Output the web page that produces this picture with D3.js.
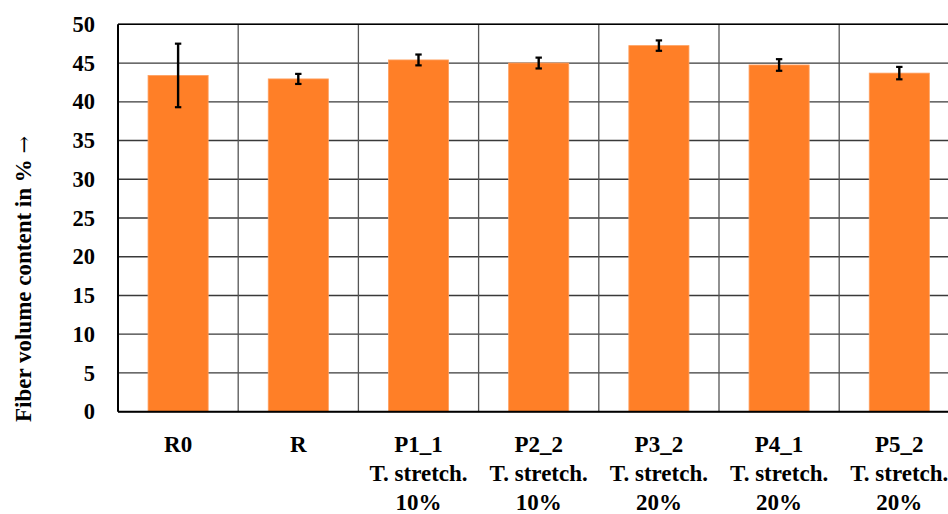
<!DOCTYPE html>
<html>
<head>
<meta charset="utf-8">
<script src="https://cdn.jsdelivr.net/npm/d3@7"></script>
<style>
  html, body { margin: 0; padding: 0; background: #fff; }
  svg { display: block; }
  text { font-family: "Liberation Serif", "Times New Roman", serif; font-weight: bold; fill: #000; }
</style>
</head>
<body>
<svg id="chart" width="948" height="514"></svg>
<script>
const categories = ["R0", "R", "P1_1", "P2_2", "P3_2", "P4_1", "P5_2"];
const labelLine2 = ["", "", "T. stretch.", "T. stretch.", "T. stretch.", "T. stretch.", "T. stretch."];
const labelLine3 = ["", "", "10%", "10%", "20%", "20%", "20%"];
const values = [43.4, 42.95, 45.4, 45.0, 47.25, 44.75, 43.7];
const errors = [4.1, 0.65, 0.7, 0.7, 0.67, 0.75, 0.8];
const yTicks = [0, 5, 10, 15, 20, 25, 30, 35, 40, 45, 50];
const yTitleText = "Fiber volume content in %";
const yTitleArrow = "\u2192";

const svg = d3.select("#chart");
const mLeft = 118, mTop = 24.3, plotH = 387.4, band = 120.2;
const plotW = band * categories.length;

const x = d3.scaleBand().domain(categories).range([mLeft, mLeft + plotW]).paddingInner(0).paddingOuter(0);
const y = d3.scaleLinear().domain([0, 50]).range([mTop + plotH, mTop]);

// horizontal gridlines
svg.append("g").selectAll("line").data(yTicks).join("line")
  .attr("x1", mLeft).attr("x2", mLeft + plotW)
  .attr("y1", d => y(d)).attr("y2", d => y(d))
  .attr("stroke", "#3a3a3a").attr("stroke-width", 1.3);

// vertical category boundaries
svg.append("g").selectAll("line").data(categories.slice(1)).join("line")
  .attr("x1", d => x(d)).attr("x2", d => x(d))
  .attr("y1", mTop).attr("y2", mTop + plotH)
  .attr("stroke", "#555").attr("stroke-width", 1.3);

// bars
const bw = x.bandwidth() / 2;
svg.append("g").selectAll("rect").data(values).join("rect")
  .attr("x", (d, i) => x(categories[i]) + (x.bandwidth() - bw) / 2)
  .attr("width", bw)
  .attr("y", d => y(d))
  .attr("height", d => y(0) - y(d))
  .attr("fill", "#FF7F27")
  .attr("stroke", "#FFA060").attr("stroke-width", 0.8);

// axes frame (left, top, bottom)
svg.append("line").attr("x1", mLeft).attr("x2", mLeft).attr("y1", mTop).attr("y2", mTop + plotH)
  .attr("stroke", "#000").attr("stroke-width", 2);
svg.append("line").attr("x1", mLeft).attr("x2", mLeft + plotW).attr("y1", y(0)).attr("y2", y(0))
  .attr("stroke", "#000").attr("stroke-width", 2);
svg.append("line").attr("x1", mLeft).attr("x2", mLeft + plotW).attr("y1", y(50)).attr("y2", y(50))
  .attr("stroke", "#000").attr("stroke-width", 1.6);

// error bars
const eg = svg.append("g");
values.forEach((v, i) => {
  const cx = x(categories[i]) + x.bandwidth() / 2;
  const y1 = y(v + errors[i]), y2 = y(v - errors[i]);
  eg.append("line").attr("x1", cx).attr("x2", cx).attr("y1", y1).attr("y2", y2)
    .attr("stroke", "#000").attr("stroke-width", 2.4);
  [y1, y2].forEach(yy => eg.append("line").attr("x1", cx - 3.2).attr("x2", cx + 3.2)
    .attr("y1", yy).attr("y2", yy).attr("stroke", "#000").attr("stroke-width", 2.2));
});

// y tick labels
svg.append("g").selectAll("text").data(yTicks).join("text")
  .attr("x", 95).attr("y", d => y(d)).attr("dy", "0.34em")
  .attr("text-anchor", "end").style("font-size", "22.5px")
  .text(d => d);

// x labels
const xl = svg.append("g");
categories.forEach((c, i) => {
  const cx = x(c) + x.bandwidth() / 2;
  const t = xl.append("text").attr("text-anchor", "middle").style("font-size", "23px");
  t.append("tspan").attr("x", cx).attr("y", 452).text(c);
  if (labelLine2[i]) t.append("tspan").attr("x", cx).attr("y", 480.5).text(labelLine2[i]);
  if (labelLine3[i]) t.append("tspan").attr("x", cx).attr("y", 509.5).text(labelLine3[i]);
});

// y title
const yt = svg.append("text").attr("transform", "translate(31,422) rotate(-90)")
  .attr("text-anchor", "start").style("font-size", "23px");
yt.append("tspan").text(yTitleText + " ");
yt.append("tspan").style("font-family", "'DejaVu Serif'").style("font-weight", "normal")
  .style("font-size", "21px").text(yTitleArrow);
</script>
</body>
</html>
